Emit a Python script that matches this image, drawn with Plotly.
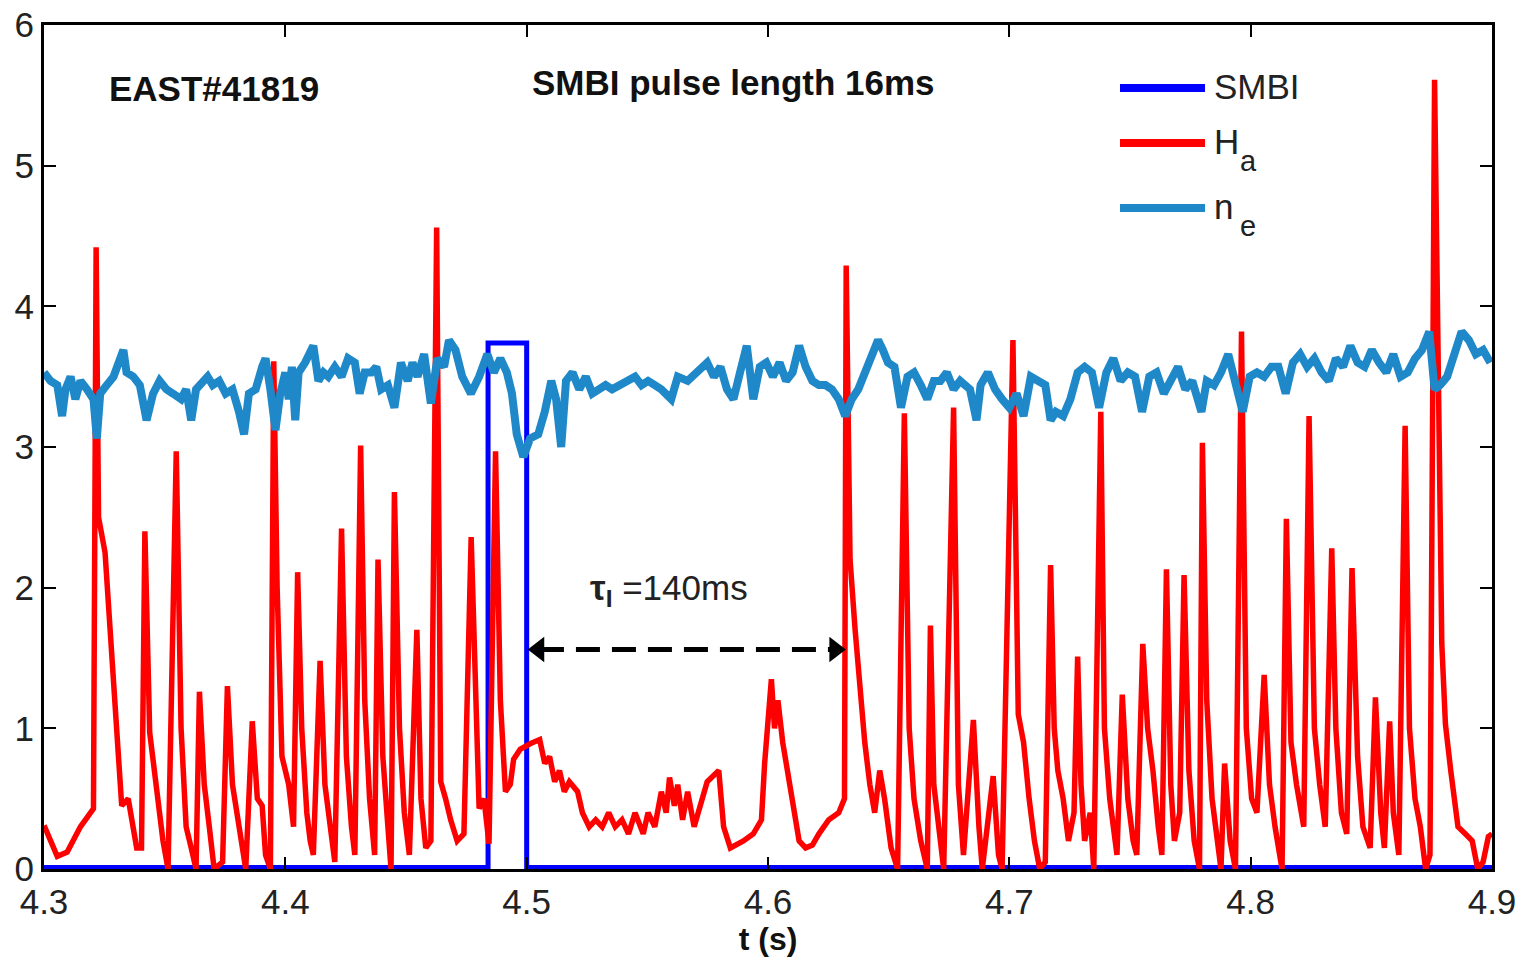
import plotly.graph_objects as go

FONT = "Liberation Sans, Arial, sans-serif"

# ---------------- data ----------------
smbi_t = [4.300, 4.4840, 4.4840, 4.5000, 4.5000, 4.900]
smbi_v = [0.01, 0.01, 3.74, 3.74, 0.01, 0.01]

ha_t = [
    4.3000, 4.3055, 4.3096, 4.3151, 4.3205, 4.3216, 4.3226, 4.3253, 4.3274, 4.3295,
    4.3308, 4.3322, 4.3349, 4.3370, 4.3384, 4.3404, 4.3418, 4.3438, 4.3466, 4.3493,
    4.3514, 4.3548, 4.3568, 4.3589, 4.3610, 4.3630, 4.3644, 4.3664, 4.3685, 4.3705,
    4.3740, 4.3760, 4.3781, 4.3808, 4.3836, 4.3863, 4.3884, 4.3904, 4.3918, 4.3938,
    4.3952, 4.3966, 4.3986, 4.4014, 4.4034, 4.4051, 4.4068, 4.4089, 4.4103, 4.4116,
    4.4144, 4.4164, 4.4192, 4.4205, 4.4233, 4.4253, 4.4274, 4.4288, 4.4312, 4.4329,
    4.4349, 4.4370, 4.4384, 4.4404, 4.4425, 4.4438, 4.4452, 4.4473, 4.4493, 4.4514,
    4.4545, 4.4562, 4.4582, 4.4603, 4.4627, 4.4644, 4.4664, 4.4685, 4.4712, 4.4740,
    4.4770, 4.4803, 4.4823, 4.4844, 4.4871, 4.4891, 4.4912, 4.4932, 4.4946, 4.4973,
    4.5014, 4.5054, 4.5075, 4.5095, 4.5116, 4.5136, 4.5156, 4.5177, 4.5211, 4.5231,
    4.5259, 4.5286, 4.5313, 4.5340, 4.5367, 4.5395, 4.5422, 4.5449, 4.5483, 4.5503,
    4.5531, 4.5558, 4.5578, 4.5592, 4.5612, 4.5626, 4.5646, 4.5667, 4.5694, 4.5721,
    4.5748, 4.5796, 4.5816, 4.5844, 4.5898, 4.5939, 4.5973, 4.5986, 4.6000, 4.6014,
    4.6027, 4.6041, 4.6061, 4.6088, 4.6109, 4.6129, 4.6156, 4.6184, 4.6211, 4.6252,
    4.6293, 4.6317, 4.6324, 4.6340, 4.6361, 4.6381, 4.6401, 4.6422, 4.6442, 4.6463,
    4.6483, 4.6510, 4.6537, 4.6565, 4.6585, 4.6605, 4.6633, 4.6660, 4.6673, 4.6687,
    4.6707, 4.6728, 4.6769, 4.6789, 4.6810, 4.6851, 4.6874, 4.6888, 4.6933, 4.6955,
    4.6970, 4.7015, 4.7037, 4.7059, 4.7082, 4.7104, 4.7126, 4.7149, 4.7171, 4.7186,
    4.7201, 4.7223, 4.7245, 4.7268, 4.7283, 4.7297, 4.7312, 4.7335, 4.7350, 4.7379,
    4.7394, 4.7416, 4.7446, 4.7468, 4.7491, 4.7513, 4.7528, 4.7553, 4.7573, 4.7595,
    4.7617, 4.7632, 4.7651, 4.7669, 4.7684, 4.7706, 4.7724, 4.7744, 4.7766, 4.7788,
    4.7800, 4.7818, 4.7840, 4.7863, 4.7877, 4.7892, 4.7915, 4.7937, 4.7962, 4.7982,
    4.8004, 4.8026, 4.8056, 4.8078, 4.8101, 4.8130, 4.8148, 4.8167, 4.8190, 4.8220,
    4.8242, 4.8264, 4.8286, 4.8309, 4.8336, 4.8353, 4.8376, 4.8398, 4.8420, 4.8443,
    4.8465, 4.8495, 4.8517, 4.8539, 4.8554, 4.8576, 4.8591, 4.8614, 4.8640, 4.8658,
    4.8681, 4.8703, 4.8725, 4.8743, 4.8762, 4.8792, 4.8807, 4.8829, 4.8859, 4.8889,
    4.8918, 4.8941, 4.8963, 4.8985, 4.9000,
]
ha_v = [
    0.31, 0.09, 0.12, 0.30, 0.43, 4.42, 2.50, 2.25, 1.70, 1.20,
    0.90, 0.45, 0.50, 0.28, 0.15, 0.15, 2.40, 0.97, 0.60, 0.20,
    0.00, 2.97, 1.00, 0.30, 0.15, 0.00, 1.26, 0.60, 0.30, 0.00,
    0.05, 1.30, 0.60, 0.30, 0.00, 1.05, 0.50, 0.45, 0.10, 0.00,
    3.61, 2.00, 0.80, 0.60, 0.30, 2.11, 1.00, 0.40, 0.20, 0.10,
    1.48, 0.60, 0.20, 0.05, 2.42, 0.80, 0.30, 0.10, 3.01, 1.20,
    0.50, 0.10, 2.20, 0.80, 0.30, 0.00, 2.68, 1.00, 0.40, 0.10,
    1.70, 0.50, 0.15, 0.20, 4.56, 0.62, 0.50, 0.35, 0.20, 0.25,
    2.36, 0.43, 0.50, 0.18, 2.97, 1.20, 0.55, 0.60, 0.78, 0.85,
    0.89, 0.92, 0.75, 0.80, 0.62, 0.70, 0.55, 0.62, 0.55, 0.40,
    0.30, 0.35, 0.30, 0.40, 0.30, 0.35, 0.25, 0.40, 0.25, 0.40,
    0.30, 0.55, 0.40, 0.65, 0.45, 0.60, 0.35, 0.55, 0.30, 0.45,
    0.62, 0.70, 0.30, 0.15, 0.20, 0.25, 0.35, 0.75, 1.00, 1.35,
    1.00, 1.20, 0.90, 0.60, 0.40, 0.20, 0.15, 0.17, 0.25, 0.35,
    0.40, 0.50, 4.29, 2.20, 1.70, 1.30, 0.90, 0.60, 0.40, 0.70,
    0.50, 0.15, 0.00, 3.24, 1.00, 0.50, 0.20, 0.00, 1.73, 0.60,
    0.30, 0.00, 3.28, 0.60, 0.10, 1.06, 0.30, 0.00, 0.66, 0.10,
    0.00, 3.76, 1.10, 0.90, 0.50, 0.20, 0.00, 0.05, 2.16, 1.00,
    0.70, 0.50, 0.20, 0.40, 1.51, 0.60, 0.20, 0.40, 0.00, 3.25,
    1.00, 0.50, 0.10, 1.24, 0.50, 0.20, 0.10, 1.60, 1.00, 0.70,
    0.30, 0.10, 2.13, 0.60, 0.20, 0.40, 2.09, 0.70, 0.20, 0.00,
    3.03, 1.20, 0.50, 0.20, 0.00, 0.75, 0.20, 0.00, 3.82, 1.00,
    0.50, 0.40, 1.38, 0.60, 0.30, 0.00, 2.49, 0.90, 0.60, 0.30,
    3.22, 1.00, 0.60, 0.30, 2.28, 1.00, 0.40, 0.25, 2.14, 0.80,
    0.30, 0.15, 1.22, 0.40, 0.15, 1.05, 0.40, 0.10, 3.15, 1.00,
    0.50, 0.30, 0.00, 0.10, 5.61, 1.60, 1.03, 0.70, 0.30, 0.25,
    0.20, 0.00, 0.05, 0.23, 0.25,
]

ne_t = [
    4.3000, 4.3027, 4.3055, 4.3075, 4.3089, 4.3110, 4.3130, 4.3151, 4.3178, 4.3205,
    4.3219, 4.3233, 4.3260, 4.3288, 4.3329, 4.3342, 4.3370, 4.3397, 4.3425, 4.3452,
    4.3479, 4.3507, 4.3534, 4.3568, 4.3589, 4.3610, 4.3630, 4.3658, 4.3678, 4.3699,
    4.3726, 4.3753, 4.3781, 4.3808, 4.3829, 4.3849, 4.3877, 4.3904, 4.3918, 4.3938,
    4.3959, 4.3979, 4.4000, 4.4014, 4.4027, 4.4041, 4.4055, 4.4082, 4.4116, 4.4137,
    4.4158, 4.4178, 4.4205, 4.4233, 4.4260, 4.4288, 4.4308, 4.4329, 4.4356, 4.4377,
    4.4397, 4.4425, 4.4452, 4.4479, 4.4507, 4.4527, 4.4548, 4.4575, 4.4603, 4.4630,
    4.4658, 4.4678, 4.4705, 4.4733, 4.4769, 4.4803, 4.4837, 4.4864, 4.4891, 4.4918,
    4.4939, 4.4959, 4.4986, 4.5014, 4.5048, 4.5075, 4.5102, 4.5122, 4.5143, 4.5163,
    4.5190, 4.5218, 4.5245, 4.5272, 4.5299, 4.5327, 4.5354, 4.5381, 4.5422, 4.5449,
    4.5476, 4.5503, 4.5531, 4.5558, 4.5599, 4.5626, 4.5667, 4.5707, 4.5748, 4.5776,
    4.5803, 4.5830, 4.5857, 4.5884, 4.5912, 4.5939, 4.5966, 4.5993, 4.6020, 4.6048,
    4.6075, 4.6102, 4.6129, 4.6156, 4.6184, 4.6211, 4.6238, 4.6265, 4.6293, 4.6320,
    4.6347, 4.6374, 4.6401, 4.6429, 4.6456, 4.6476, 4.6497, 4.6524, 4.6551, 4.6578,
    4.6605, 4.6633, 4.6660, 4.6687, 4.6714, 4.6741, 4.6769, 4.6796, 4.6837, 4.6864,
    4.6881, 4.6911, 4.6941, 4.6970, 4.7000, 4.7030, 4.7059, 4.7089, 4.7119, 4.7149,
    4.7171, 4.7193, 4.7223, 4.7253, 4.7283, 4.7312, 4.7342, 4.7372, 4.7402, 4.7431,
    4.7461, 4.7491, 4.7521, 4.7550, 4.7580, 4.7610, 4.7640, 4.7669, 4.7699, 4.7729,
    4.7758, 4.7796, 4.7818, 4.7848, 4.7877, 4.7907, 4.7937, 4.7967, 4.7996, 4.8026,
    4.8056, 4.8086, 4.8115, 4.8145, 4.8175, 4.8205, 4.8234, 4.8264, 4.8294, 4.8324,
    4.8353, 4.8383, 4.8413, 4.8443, 4.8472, 4.8502, 4.8532, 4.8562, 4.8591, 4.8621,
    4.8651, 4.8681, 4.8710, 4.8740, 4.8762, 4.8785, 4.8814, 4.8844, 4.8874, 4.8904,
    4.8933, 4.8963, 4.8993,
]
ne_v = [
    3.53, 3.47, 3.44, 3.22, 3.41, 3.50, 3.34, 3.47, 3.41, 3.34,
    3.06, 3.38, 3.44, 3.50, 3.69, 3.53, 3.50, 3.44, 3.19, 3.38,
    3.47, 3.41, 3.38, 3.34, 3.41, 3.19, 3.41, 3.47, 3.50, 3.44,
    3.47, 3.38, 3.41, 3.25, 3.09, 3.38, 3.41, 3.57, 3.63, 3.41,
    3.12, 3.38, 3.53, 3.34, 3.57, 3.19, 3.53, 3.60, 3.72, 3.47,
    3.53, 3.50, 3.57, 3.50, 3.63, 3.60, 3.38, 3.53, 3.53, 3.57,
    3.41, 3.44, 3.28, 3.60, 3.47, 3.60, 3.50, 3.66, 3.31, 3.63,
    3.57, 3.76, 3.69, 3.50, 3.38, 3.50, 3.66, 3.53, 3.63, 3.53,
    3.38, 3.09, 2.93, 3.06, 3.09, 3.25, 3.47, 3.34, 3.00, 3.47,
    3.53, 3.41, 3.50, 3.38, 3.41, 3.44, 3.41, 3.44, 3.47, 3.50,
    3.44, 3.47, 3.44, 3.41, 3.34, 3.50, 3.47, 3.53, 3.60, 3.50,
    3.57, 3.41, 3.34, 3.53, 3.72, 3.34, 3.57, 3.60, 3.50, 3.60,
    3.47, 3.53, 3.72, 3.57, 3.47, 3.44, 3.44, 3.41, 3.34, 3.22,
    3.34, 3.41, 3.53, 3.66, 3.76, 3.69, 3.60, 3.57, 3.28, 3.50,
    3.53, 3.44, 3.34, 3.47, 3.47, 3.53, 3.41, 3.47, 3.41, 3.19,
    3.44, 3.53, 3.41, 3.34, 3.28, 3.38, 3.22, 3.50, 3.47, 3.44,
    3.19, 3.25, 3.22, 3.34, 3.53, 3.57, 3.53, 3.28, 3.53, 3.63,
    3.47, 3.53, 3.50, 3.25, 3.50, 3.53, 3.38, 3.47, 3.57, 3.41,
    3.47, 3.25, 3.47, 3.44, 3.53, 3.66, 3.44, 3.25, 3.50, 3.53,
    3.50, 3.57, 3.57, 3.38, 3.60, 3.66, 3.57, 3.63, 3.53, 3.47,
    3.63, 3.57, 3.72, 3.60, 3.57, 3.69, 3.60, 3.53, 3.66, 3.50,
    3.53, 3.63, 3.69, 3.82, 3.41, 3.44, 3.50, 3.66, 3.82, 3.76,
    3.66, 3.69, 3.60,
]

x_ticks = [4.3, 4.4, 4.5, 4.6, 4.7, 4.8, 4.9]
x_tick_labels = ["4.3", "4.4", "4.5", "4.6", "4.7", "4.8", "4.9"]
y_ticks = [0, 1, 2, 3, 4, 5, 6]

# interval arrow (start = end of SMBI pulse, end = next large ELM)
tau_t = [4.5005, 4.6322]
tau_y = [1.56, 1.56]

legend_main = ["SMBI", "H", "n"]
legend_sub = ["", "a", "e"]
C_SMBI = "#0000ff"
C_HA = "#ff0000"
C_NE = "#1f88c9"
legend_colors = [C_SMBI, C_HA, C_NE]

# ---------------- figure ----------------
L, R, T, B = 44, 30, 25, 94
PW, PH = 1522 - L - R, 963 - T - B

def px_x(p):
    return (p - L) / PW

def px_y(p):
    return 1 - (p - T) / PH

fig = go.Figure()
fig.add_trace(go.Scatter(x=smbi_t, y=smbi_v, mode="lines", name="SMBI",
                         line=dict(color=C_SMBI, width=5), showlegend=False))
fig.add_trace(go.Scatter(x=ha_t, y=ha_v, mode="lines", name="Ha",
                         line=dict(color=C_HA, width=5.5), showlegend=False))
fig.add_trace(go.Scatter(x=ne_t, y=ne_v, mode="lines", name="ne",
                         line=dict(color=C_NE, width=8), showlegend=False))

# dashed double arrow
fig.add_trace(go.Scatter(x=[tau_t[0] + 0.005, tau_t[1] - 0.005], y=tau_y, mode="lines",
                         line=dict(color="black", width=5, dash="24px,12px"),
                         showlegend=False, hoverinfo="skip"))
fig.add_trace(go.Scatter(x=[tau_t[0] + 0.0045, tau_t[1] - 0.0045], y=tau_y, mode="markers",
                         marker=dict(symbol=["triangle-left", "triangle-right"], size=22,
                                     color="black"),
                         showlegend=False, hoverinfo="skip"))

annotations = [
    dict(x=4.3706, y=5.55, text="<b>EAST#41819</b>", showarrow=False,
         font=dict(size=35, color="#111", family=FONT)),
    dict(x=4.5856, y=5.59, text="<b>SMBI pulse length 16ms</b>", showarrow=False,
         font=dict(size=35, color="#111", family=FONT)),
    dict(x=4.5590, y=1.98, text="<b>τ<sub>I</sub></b> =140ms", showarrow=False,
         font=dict(size=35, color="#222", family=FONT)),
]

shapes = []
leg_y = [88, 143, 208]
for main, sub, col, py in zip(legend_main, legend_sub, legend_colors, leg_y):
    shapes.append(dict(type="line", xref="paper", yref="paper",
                       x0=px_x(1120), x1=px_x(1205), y0=px_y(py), y1=px_y(py),
                       line=dict(color=col, width=8)))
    annotations.append(dict(xref="paper", yref="paper", x=px_x(1212),
                            y=px_y(py - 2), xanchor="left", yanchor="middle",
                            text=main, showarrow=False,
                            font=dict(size=35, color="#222", family=FONT)))
    if sub:
        annotations.append(dict(xref="paper", yref="paper", x=px_x(1238),
                                y=px_y(py + 18), xanchor="left", yanchor="middle",
                                text=sub, showarrow=False,
                                font=dict(size=29, color="#222", family=FONT)))

fig.update_layout(
    width=1522, height=963,
    margin=dict(l=L, r=R, t=T, b=B, autoexpand=False),
    paper_bgcolor="white", plot_bgcolor="white",
    font=dict(family=FONT, size=35, color="#222"),
    annotations=annotations, shapes=shapes,
    showlegend=False,
)
fig.update_xaxes(range=[4.3, 4.9], tickvals=x_ticks, ticktext=x_tick_labels,
                 showgrid=False, zeroline=False, showline=True, linecolor="black", linewidth=3,
                 mirror="ticks", ticks="inside", ticklen=12, tickwidth=2, tickcolor="black",
                 tickfont=dict(size=35, color="#222", family=FONT), automargin=False,
                 title=dict(text="<b>t (s)</b>", standoff=2,
                            font=dict(size=32, color="#111", family=FONT)))
fig.update_yaxes(range=[0, 6], tickvals=y_ticks,
                 showgrid=False, zeroline=False, showline=True, linecolor="black", linewidth=3,
                 mirror="ticks", ticks="inside", ticklen=12, tickwidth=2, tickcolor="black",
                 tickfont=dict(size=35, color="#222", family=FONT), automargin=False)

fig.write_html("out.html")
